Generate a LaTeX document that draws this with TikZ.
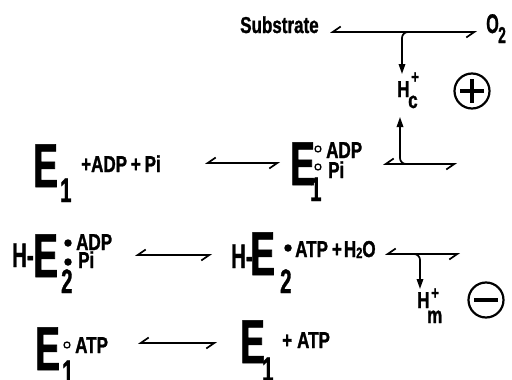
\documentclass[tikz,border=0pt]{standalone}
\usepackage{fontspec}
\usetikzlibrary{arrows.meta}
\newfontfamily\fS{Liberation Sans}[FakeStretch=0.74,FakeBold=1.2]
\newfontfamily\fE{Liberation Sans}[FakeStretch=0.6,FakeBold=1]
\tikzset{
  t/.style={inner sep=0pt, anchor=base west, font=\fS\bfseries\fontsize{23}{23}\selectfont},
  tp/.style={inner sep=0pt, anchor=base west, font=\fS\bfseries\fontsize{18}{18}\selectfont},
  big/.style={inner sep=0pt, anchor=base west, font=\fE\bfseries\fontsize{62}{62}\selectfont},
  mid/.style={inner sep=0pt, anchor=base west, font=\fE\bfseries\fontsize{34}{34}\selectfont},
  eq/.style={line width=1.7pt, {Straight Barb[right,length=8pt,width=11pt]}-{Straight Barb[right,length=8pt,width=11pt]}},
  vec/.style={line width=1.7pt, rounded corners=6pt, -{Triangle[length=10pt,width=6.5pt]}},
  sign/.style={circle, draw, line width=2.2pt, minimum size=35pt, inner sep=0pt},
  bar/.style={line width=4.5pt},
  odot/.style={circle, draw, line width=1.3pt, minimum size=6pt, inner sep=0pt},
  fdot/.style={circle, fill, minimum size=7.5pt, inner sep=0pt}
}
\begin{document}
\begin{tikzpicture}[x=1pt,y=-1pt]
\useasboundingbox (0,0) rectangle (512,380);
% top reaction
\node[t] (subst) at (240,33) {Substrate};
\node[t, font=\fE\bfseries\fontsize{27}{27}\selectfont] (oo) at (486,33) {O};
\node[t, font=\fE\bfseries\fontsize{23}{23}\selectfont] (oo2) at (498,43) {2};
\coordinate (a0l) at (330,32);
\coordinate (a0r) at (477,32);
\draw[eq] (a0l) -- (a0r);
\coordinate (j0) at (410,32);
\coordinate (hcTop) at (402,74);
\draw[vec] (j0) -| (hcTop);
% H_c^+
\node[t] (hcH) at (397,97) {H};
\node[tp] (hcP) at (411,83) {+};
\node[t] (hcC) at (408,108) {c};
\node[sign] (plus) at (472,91) {};
\draw[bar] (plus.center) +(-12,0) -- +(12,0);
\draw[bar] (plus.center) +(0,-12) -- +(0,12);
\coordinate (j1) at (409,164);
\coordinate (hcBot) at (400,117);
\draw[vec] (j1) -| (hcBot);
% row 1
\node[big] (e1a) at (33,187) {E};
\node[mid] (e1aS) at (60,202) {1};
\node[t] (e1aT) at (81,172) {+ADP\,+\,Pi};
\coordinate (a1l) at (205,163);
\coordinate (a1r) at (280,163);
\draw[eq] (a1l) -- (a1r);
\node[big] (e1b) at (290,185) {E};
\node[odot] (c1) at (318,149) {};
\node[odot] (c2) at (318,167) {};
\node[t] (adp1) at (326,158) {ADP};
\node[t] (pi1) at (328,178) {Pi};
\node[mid] (e1bS) at (310,201) {1};
\coordinate (a2l) at (383,164);
\coordinate (a2r) at (457,164);
\draw[eq] (a2l) -- (a2r);
% row 2
\node[mid] (h1) at (12,267) {H-};
\node[big] (e2a) at (33,277) {E};
\node[fdot] (d1) at (68,243) {};
\node[fdot] (d2) at (68,262) {};
\node[t] (adp2) at (76,250) {ADP};
\node[t] (pi2) at (78,268) {Pi};
\node[mid] (e2aS) at (61,293) {2};
\coordinate (a3l) at (135,255);
\coordinate (a3r) at (212,255);
\draw[eq] (a3l) -- (a3r);
\node[mid] (h2) at (231,268) {H-};
\node[big] (e2b) at (250,275) {E};
\node[fdot] (d3) at (288,248) {};
\node[t] (atp2) at (295,257) {ATP\hspace{4pt}+\hspace{2pt}H\raisebox{-1pt}{\fontsize{15}{15}\selectfont 2}O};
\node[mid] (e2bS) at (280,293) {2};
\coordinate (a4l) at (385,254);
\coordinate (a4r) at (460,254);
\draw[eq] (a4l) -- (a4r);
\coordinate (j2) at (412,254);
\coordinate (hmTop) at (420,289);
\draw[vec] (j2) -| (hmTop);
\node[t] (hmH) at (417,308) {H};
\node[tp] (hmP) at (431,299) {+};
\node[t] (hmM) at (427,323) {m};
\node[sign] (minus) at (486,300) {};
\draw[bar] (minus.center) +(-12,0) -- +(12,0);
% row 3
\node[big] (e3a) at (35,370) {E};
\node[odot] (c3) at (67,345) {};
\node[t] (atp3) at (75,353) {ATP};
\node[mid] (e3aS) at (62,384) {1};
\coordinate (a5l) at (138,343);
\coordinate (a5r) at (217,343);
\draw[eq] (a5l) -- (a5r);
\node[big] (e3b) at (240,363) {E};
\node[mid] (e3bS) at (262,381) {1};
\node[t] (atp4) at (282,348) {+\hspace{5pt}ATP};
\end{tikzpicture}
\end{document}
